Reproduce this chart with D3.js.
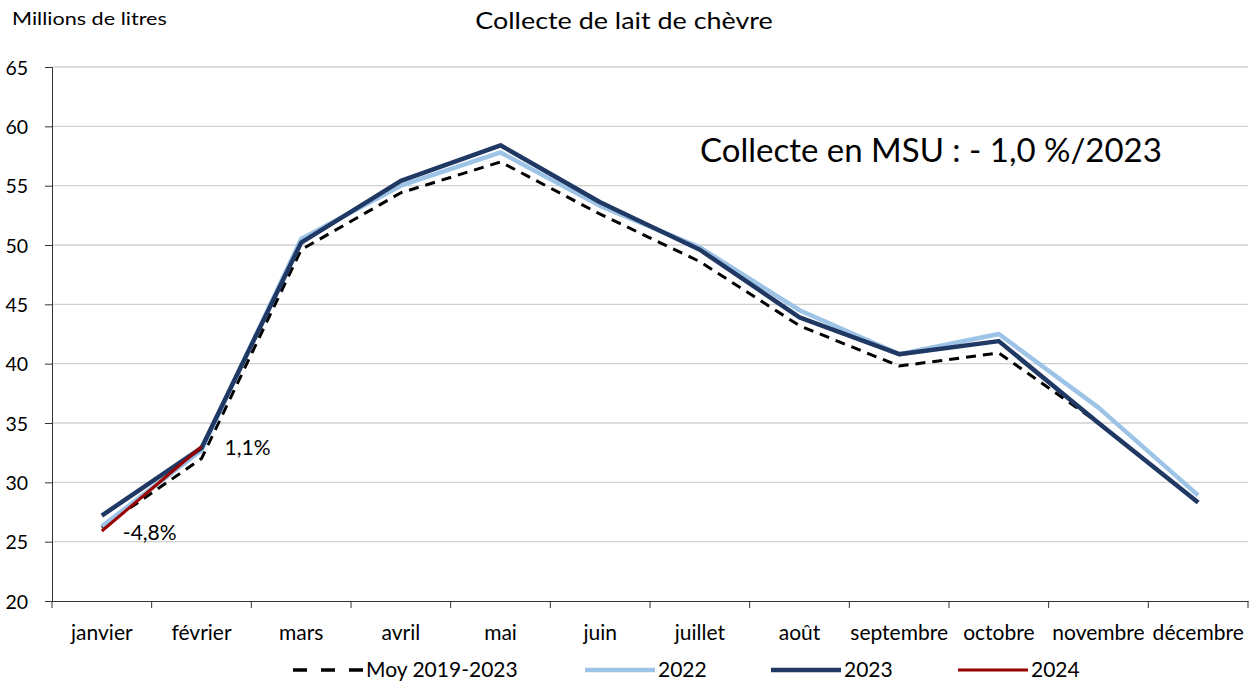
<!DOCTYPE html>
<html><head><meta charset="utf-8">
<script src="https://cdn.jsdelivr.net/npm/d3@7"></script>
<style>body{margin:0;background:#fff}text{font-family:Lato,"Open Sans",sans-serif;fill:#000}</style>
</head><body>
<svg id="c" width="1249" height="683"></svg>
<script>
const months = ["janvier","février","mars","avril","mai","juin","juillet","août","septembre","octobre","novembre","décembre"];
const yTicks = [20,25,30,35,40,45,50,55,60,65];
const moy = [26.2,32.0,49.6,54.4,57.0,52.6,48.6,43.2,39.8,40.9,35.0,28.3];
const y2022 = [26.3,32.7,50.5,55.0,57.8,53.3,49.8,44.5,40.8,42.5,36.3,28.9];
const y2023 = [27.2,32.9,50.2,55.4,58.4,53.6,49.6,43.9,40.8,41.9,35.0,28.3];
const y2024 = [25.9,33.0];
const labels2024 = ["-4,8%","1,1%"];
const seriesNames = ["Moy 2019-2023","2022","2023","2024"];

const svg = d3.select("#c");
const L=52,R=1248,T=67,B=601;
const x = d3.scaleBand().domain(months).range([L,R]);
const y = d3.scaleLinear().domain([20,65]).range([B,T]);

svg.append("g").selectAll("line").data(yTicks.slice(1)).join("line")
 .attr("x1",L).attr("x2",R).attr("y1",d=>y(d)).attr("y2",d=>y(d))
 .attr("stroke","#d0d0d0").attr("stroke-width",1.3);

const ya = svg.append("g").attr("transform",`translate(${L},0)`)
 .call(d3.axisLeft(y).tickValues(yTicks).tickSize(7).tickPadding(17));
ya.select(".domain").attr("stroke","#333");
ya.selectAll(".tick line").attr("stroke","#333");
ya.selectAll("text").style("font-size","19.5px").style("font-family","Lato").attr("dy","0.36em");

const xa = svg.append("g").attr("transform",`translate(0,${B})`)
 .call(d3.axisBottom(x).tickSize(0).tickPadding(0));
xa.select(".domain").attr("stroke","#333");
xa.selectAll("text").style("font-size","21px").style("font-family","Lato").attr("dy",null).attr("y",39);
svg.append("g").selectAll("line").data(d3.range(months.length+1)).join("line")
 .attr("x1",i=>L+i*x.step()).attr("x2",i=>L+i*x.step())
 .attr("y1",B).attr("y2",B+7).attr("stroke","#333");

const line = d3.line().x((d,i)=>x(months[i])+x.bandwidth()/2).y(d=>y(d));
svg.append("path").attr("d",line(moy)).attr("fill","none").attr("stroke","#000")
 .attr("stroke-width",3).attr("stroke-dasharray","10,7");
svg.append("path").attr("d",line(y2022)).attr("fill","none").attr("stroke","#9dc3e6").attr("stroke-width",4.5).attr("stroke-linejoin","round");
svg.append("path").attr("d",line(y2023)).attr("fill","none").attr("stroke","#203864").attr("stroke-width",4.5).attr("stroke-linejoin","round");
svg.append("path").attr("d",line(y2024)).attr("fill","none").attr("stroke","#990000").attr("stroke-width",3);

svg.append("text").attr("x",x(months[0])+x.bandwidth()/2+21).attr("y",y(y2024[0])+9)
 .style("font-size","21px").text(labels2024[0]);
svg.append("text").attr("x",x(months[1])+x.bandwidth()/2+23).attr("y",y(y2024[1])+8)
 .style("font-size","21px").text(labels2024[1]);

svg.append("text").attr("transform","translate(12,25) scale(1.2,1)").style("font-size","18px").text("Millions de litres");
svg.append("text").attr("transform","translate(624,29) scale(1.17,1)").attr("text-anchor","middle").style("font-size","23px").text("Collecte de lait de chèvre");
svg.append("text").attr("x",700).attr("y",162).style("font-size","33px").text("Collecte en MSU : - 1,0 %/2023");

const leg = [{x:293,c:"#000",w:3.5,d:"14,14"},{x:585,c:"#9dc3e6",w:4.5},{x:771,c:"#203864",w:4.5},{x:958,c:"#990000",w:3}];
leg.forEach((l,i)=>{
 svg.append("line").attr("x1",l.x).attr("x2",l.x+70).attr("y1",670).attr("y2",670)
  .attr("stroke",l.c).attr("stroke-width",l.w).attr("stroke-dasharray",l.d||null);
 svg.append("text").attr("x",l.x+73).attr("y",677).style("font-size","21px").text(seriesNames[i]);
});
</script>
</body></html>
